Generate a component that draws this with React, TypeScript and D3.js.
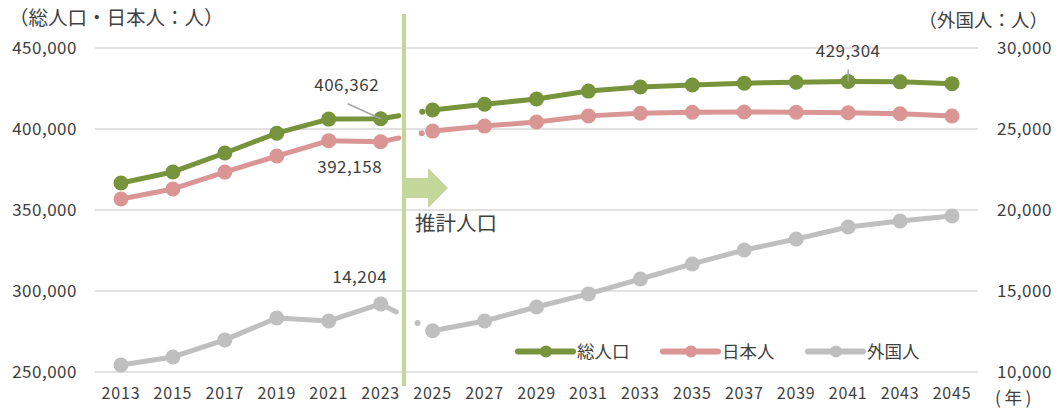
import React from "react";
import * as d3 from "d3";

const years = ["2013","2015","2017","2019","2021","2023","2025","2027","2029","2031","2033","2035","2037","2039","2041","2043","2045"];
const totalPop = [366700,373500,385200,397400,406100,406362,411700,415300,418500,423400,425900,427200,428300,428900,429304,429100,428000];
const japanesePop = [356800,363000,373400,383300,392800,392158,398700,401800,404300,408100,409700,410300,410500,410300,410000,409400,408000];
const foreignPop = [10430,10930,11980,13330,13150,14204,12550,13150,14010,14820,15740,16670,17530,18210,18950,19320,19630];
const leftTicks = [250000,300000,350000,400000,450000];
const rightTicks = [10000,15000,20000,25000,30000];
const seriesNames = ["総人口","日本人","外国人"];

const W = 1059, H = 412;
const FONT = "'Noto Sans CJK JP', 'Noto Sans', sans-serif";
const TXT = "#404040";
const COLORS = ["#77933C", "#DA9694", "#BFBFBF"];

export default function App() {
  const x = d3.scaleBand<string>().domain(years).range([95, 978]).padding(0);
  const cx = (i: number) => (x(years[i]) as number) + x.bandwidth() / 2;
  const yL = d3.scaleLinear().domain([250000, 450000]).range([372, 48]);
  const yR = d3.scaleLinear().domain([10000, 30000]).range([372, 48]);
  const fmt = d3.format(",");

  const series = [
    { data: totalPop, y: yL, stub: 0.35, dot: 0.8 },
    { data: japanesePop, y: yL, stub: 0.35, dot: 0.79 },
    { data: foreignPop, y: yR, stub: 0.3, dot: 0.71 },
  ];
  const line = d3.line<[number, number]>().x(d => d[0]).y(d => d[1]);
  const split = 5;

  return (
    <svg width={W} height={H} style={{ position: "absolute", left: 0, top: 0, background: "#fff" }} fontFamily={FONT}>
      {leftTicks.map(t => (
        <line key={t} x1={95} x2={978} y1={yL(t)} y2={yL(t)} stroke="#D9D9D9" strokeWidth={1.5} />
      ))}
      {leftTicks.map(t => (
        <text key={"l" + t} x={77} y={yL(t)} dy="0.33em" textAnchor="end" fontSize={17} fill={TXT} letterSpacing={0.5}>{fmt(t)}</text>
      ))}
      {rightTicks.map(t => (
        <text key={"r" + t} x={997} y={yR(t)} dy="0.33em" textAnchor="start" fontSize={17} fill={TXT} letterSpacing={0.5}>{fmt(t)}</text>
      ))}
      {years.map((yv, i) => (
        <text key={yv} x={cx(i)} y={399} textAnchor="middle" fontSize={16} fill={TXT} letterSpacing={0.8}>{yv}</text>
      ))}
      <text x={9} y={25} fontSize={19.5} fill={TXT}>（総人口・日本人：人）</text>
      <text x={1048} y={27} fontSize={18.5} fill={TXT} textAnchor="end">（外国人：人）</text>
      <text x={995} y={404} fontSize={17.5} fill={TXT} letterSpacing={3.5}>(年)</text>

      {series.map((s, k) => {
        const pts: [number, number][] = s.data.map((v, i) => [cx(i), s.y(v)]);
        const a = pts[split], b = pts[split + 1];
        const lerp = (t: number): [number, number] => [a[0] + (b[0] - a[0]) * t, a[1] + (b[1] - a[1]) * t];
        const hist = [...pts.slice(0, split + 1), lerp(s.stub)];
        const fut = pts.slice(split + 1);
        const dp = lerp(s.dot);
        return (
          <g key={k}>
            <path d={line(hist) as string} fill="none" stroke={COLORS[k]} strokeWidth={5} strokeLinejoin="round" strokeLinecap="round" />
            <path d={line(fut) as string} fill="none" stroke={COLORS[k]} strokeWidth={5} strokeLinejoin="round" strokeLinecap="round" />
            <circle cx={dp[0]} cy={dp[1]} r={3} fill={COLORS[k]} />
            {pts.map((p, i) => (
              <circle key={i} cx={p[0]} cy={p[1]} r={7.5} fill={COLORS[k]} />
            ))}
          </g>
        );
      })}

      <line x1={404} x2={404} y1={14} y2={386} stroke="#C4D79B" strokeWidth={4} />
      <path d="M406,178 L428,178 L428,168 L448,188 L428,208 L428,198 L406,198 Z" fill="#C4D79B" />
      <text x={415} y={231} fontSize={20.5} fill={TXT}>推計人口</text>

      <line x1={cx(5) - 33} y1={yL(totalPop[5]) - 15} x2={cx(5)} y2={yL(totalPop[5])} stroke="#A6A6A6" strokeWidth={1.5} />
      <text x={cx(5) - 34} y={yL(totalPop[5]) - 28} textAnchor="middle" fontSize={17} fill={TXT} letterSpacing={0.5}>{fmt(totalPop[5])}</text>
      <text x={cx(5) - 31} y={yL(japanesePop[5]) + 31} textAnchor="middle" fontSize={17} fill={TXT} letterSpacing={0.5}>{fmt(japanesePop[5])}</text>
      <text x={cx(5) - 21} y={yR(foreignPop[5]) - 21} textAnchor="middle" fontSize={17} fill={TXT} letterSpacing={0.5}>{fmt(foreignPop[5])}</text>
      <line x1={cx(14)} y1={yL(totalPop[14]) - 12} x2={cx(14)} y2={yL(totalPop[14])} stroke="#A6A6A6" strokeWidth={1.5} />
      <text x={cx(14)} y={yL(totalPop[14]) - 25} textAnchor="middle" fontSize={17} fill={TXT} letterSpacing={0.5}>{fmt(totalPop[14])}</text>

      {seriesNames.map((n, k) => {
        const lx = 518 + k * 145;
        return (
          <g key={n}>
            <line x1={lx} x2={lx + 55} y1={351.5} y2={351.5} stroke={COLORS[k]} strokeWidth={6} strokeLinecap="round" />
            <circle cx={lx + 28} cy={351.5} r={6} fill={COLORS[k]} />
            <text x={lx + 59} y={351.5} dy="0.36em" fontSize={17.5} fill={TXT}>{n}</text>
          </g>
        );
      })}
    </svg>
  );
}
